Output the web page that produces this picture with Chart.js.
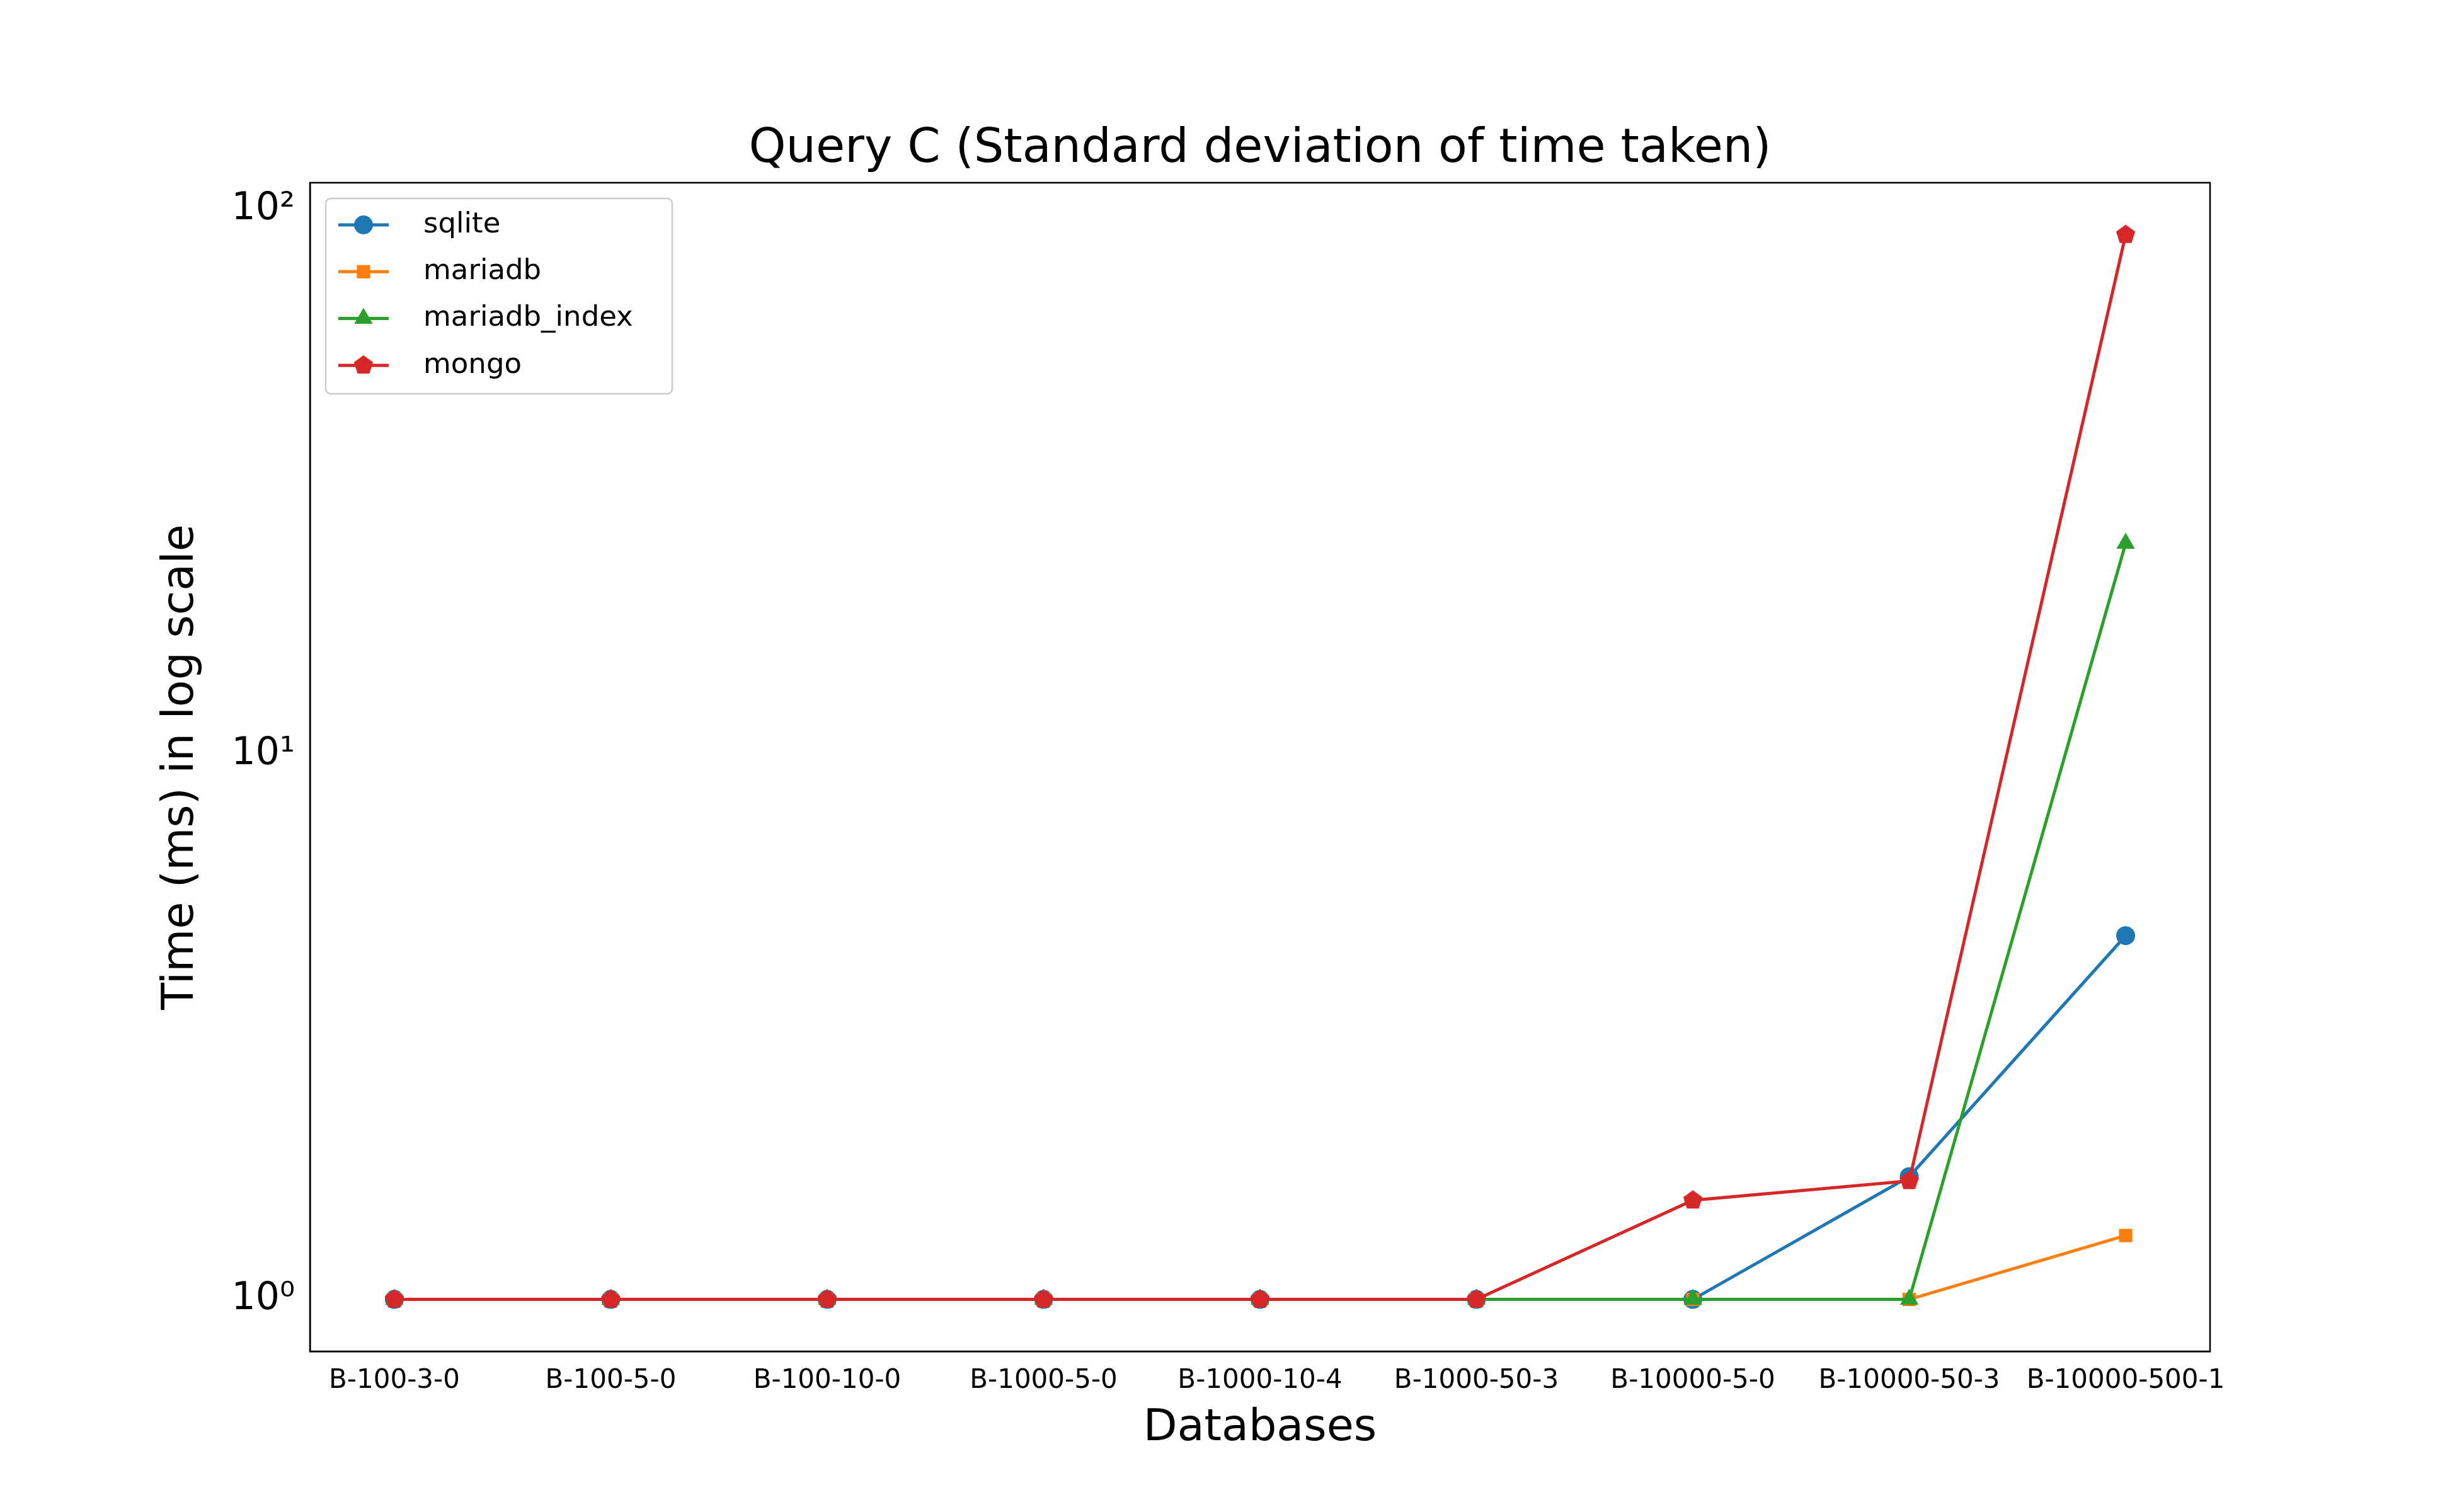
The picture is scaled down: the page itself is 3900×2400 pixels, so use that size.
<!DOCTYPE html>
<html>
<head>
<meta charset="utf-8">
<script src="https://cdn.jsdelivr.net/npm/chart.js@4/dist/chart.umd.min.js"></script>
<style>
  html, body { margin: 0; padding: 0; background: #fff; }
  canvas { display: block; }
</style>
</head>
<body>
<canvas id="chart" width="3900" height="2400"></canvas>
<script>
// Data
const databases = ['B-100-3-0', 'B-100-5-0', 'B-100-10-0', 'B-1000-5-0', 'B-1000-10-4',
                   'B-1000-50-3', 'B-10000-5-0', 'B-10000-50-3', 'B-10000-500-1'];
const sqlite = [1, 1, 1, 1, 1, 1, 1, 1.68, 4.65];
const mariadb = [1, 1, 1, 1, 1, 1, 1, 1, 1.31];
const mariadbIndex = [1, 1, 1, 1, 1, 1, 1, 1, 24.4];
const mongo = [1, 1, 1, 1, 1, 1, 1.52, 1.65, 89.9];

const PLOT = { left: 492, right: 3525, top: 290, bottom: 2145 };
const FONT = 'DejaVu Sans';
const TITLE = 'Query C (Standard deviation of time taken)';

function pentagon(color, r) {
    const c = document.createElement('canvas');
    c.width = c.height = r * 2 + 2;
    const g = c.getContext('2d');
    g.fillStyle = color;
    g.beginPath();
    for (let i = 0; i < 5; i++) {
        const a = -Math.PI / 2 + i * 2 * Math.PI / 5;
        const x = r + 1 + r * Math.cos(a), y = r + 1 + r * Math.sin(a);
        i ? g.lineTo(x, y) : g.moveTo(x, y);
    }
    g.closePath();
    g.fill();
    return c;
}

const toPoints = arr => arr.map((y, i) => ({ x: i, y }));

const series = [
    { label: 'sqlite', data: sqlite, color: '#1f77b4', style: 'circle', r: 15 },
    { label: 'mariadb', data: mariadb, color: '#ff7f0e', style: 'rect', r: 15 },
    { label: 'mariadb_index', data: mariadbIndex, color: '#2ca02c', style: 'triangle', r: 17 },
    { label: 'mongo', data: mongo, color: '#d62728', style: pentagon('#d62728', 16), r: 16 }
];

const frame = {
    id: 'frame',
    afterDraw(chart) {
        const { ctx, chartArea: a } = chart;
        ctx.save();
        ctx.strokeStyle = '#000';
        ctx.lineWidth = 2.5;
        ctx.strokeRect(a.left, a.top, a.right - a.left, a.bottom - a.top);

        // title centred over the plot
        ctx.fillStyle = '#000';
        ctx.font = `75px ${FONT}`;
        ctx.textAlign = 'center';
        ctx.textBaseline = 'middle';
        ctx.fillText(TITLE, (a.left + a.right) / 2, 238);
        ctx.textAlign = 'left';

        // legend inside the plot, upper left
        const x0 = a.left + 25, y0 = a.top + 25, w = 550, rowH = 74.3;
        ctx.fillStyle = 'rgba(255,255,255,0.8)';
        ctx.strokeStyle = '#ccc';
        ctx.lineWidth = 2.5;
        ctx.beginPath();
        ctx.roundRect(x0, y0, w, 310, 8);
        ctx.fill();
        ctx.stroke();
        ctx.font = `45px ${FONT}`;
        chart.data.datasets.forEach((ds, i) => {
            const y = y0 + 42 + i * rowH;
            ctx.strokeStyle = ds.borderColor;
            ctx.lineWidth = 5;
            ctx.beginPath();
            ctx.moveTo(x0 + 20, y);
            ctx.lineTo(x0 + 100, y);
            ctx.stroke();
            ctx.fillStyle = ds.borderColor;
            Chart.helpers.drawPoint(ctx, {
                pointStyle: ds.pointStyle, radius: ds.pointRadius, borderWidth: 0
            }, x0 + 60, y);
            ctx.fillStyle = '#000';
            ctx.fillText(ds.label, x0 + 155, y);
        });
        ctx.restore();
    }
};

new Chart(document.getElementById('chart'), {
    type: 'line',
    data: {
        datasets: series.map((s, i) => ({
            label: s.label,
            data: toPoints(s.data),
            borderColor: s.color,
            backgroundColor: s.color,
            borderWidth: 5,
            pointStyle: s.style,
            pointRadius: s.r,
            pointBorderWidth: 0,
            tension: 0,
            order: series.length - i
        }))
    },
    options: {
        responsive: false,
        animation: false,
        devicePixelRatio: 1,
        layout: { padding: { left: 0, right: 3900 - PLOT.right + 17, top: PLOT.top, bottom: 0 } },
        plugins: {
            legend: { display: false },
            tooltip: { enabled: false },
            title: { display: false }
        },
        scales: {
            x: {
                type: 'linear',
                min: -0.39,
                max: 8.39,
                afterBuildTicks: s => { s.ticks = databases.map((_, i) => ({ value: i })); },
                afterFit: s => { s.height = 2400 - PLOT.bottom; },
                grid: { display: false, drawTicks: true, tickLength: 12, tickColor: '#000' },
                border: { color: '#000', width: 2.5 },
                ticks: {
                    color: '#000',
                    font: { family: FONT, size: 42 },
                    maxRotation: 0,
                    autoSkip: false,
                    padding: 10,
                    callback: v => databases[v]
                },
                title: {
                    display: true,
                    text: 'Databases',
                    color: '#000',
                    font: { family: FONT, size: 70 },
                    padding: { top: 10, bottom: 90 }
                }
            },
            y: {
                type: 'logarithmic',
                min: 0.803,
                max: 112,
                afterBuildTicks: s => { s.ticks = [1, 10, 100].map(v => ({ value: v })); },
                afterFit: s => { s.width = PLOT.left; },
                grid: { display: false, drawTicks: true, tickLength: 12, tickColor: '#000' },
                border: { color: '#000', width: 2.5 },
                ticks: {
                    color: '#000',
                    font: { family: FONT, size: 60 },
                    padding: 12,
                    callback: v => ({ 1: '10\u2070', 10: '10\u00b9', 100: '10\u00b2' })[v] || ''
                },
                title: {
                    display: true,
                    text: 'Time (ms) in log scale',
                    color: '#000',
                    font: { family: FONT, size: 70 },
                    padding: { top: 246, bottom: 0 }
                }
            }
        }
    },
    plugins: [frame]
});
</script>
</body>
</html>
